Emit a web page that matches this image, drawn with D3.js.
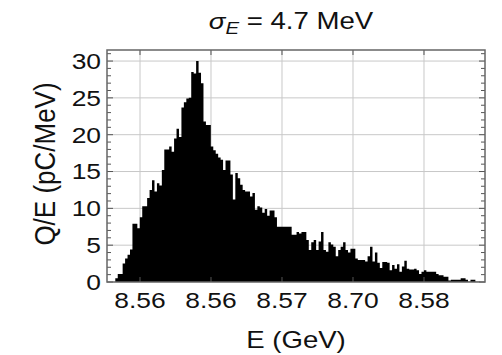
<!DOCTYPE html>
<html>
<head>
<meta charset="utf-8">
<script src="https://cdn.jsdelivr.net/npm/d3@7"></script>
<style>
    body { margin: 0; background: #fff; }
    text { font-family: "Liberation Sans", Arial, sans-serif; fill: #111; }
</style>
</head>
<body>
<svg id="chart" width="502" height="355"></svg>
<script>
// histogram bins (GeV), charge density per bin (pC/MeV)
const binStart = 8.55326;
const binWidth = 0.0001725;
const qPerE = [
    0.5, 1.1, 1.1, 2.5, 3.2, 3.7, 4.4, 7.9, 7.9, 7.3,
    8.8, 10.3, 10.3, 11.4, 12.5, 13.8, 12.3, 13.4, 13.1, 15.2,
    18.0, 18.0, 18.4, 17.7, 19.5, 20.8, 19.7, 23.7, 24.4, 24.9,
    25.0, 28.5, 28.3, 30.0, 28.4, 27.0, 21.8, 21.3, 21.3, 18.4,
    17.9, 17.4, 16.9, 16.6, 15.2, 16.5, 16.5, 14.6, 11.2, 14.8,
    14.1, 13.2, 12.5, 12.3, 12.3, 11.6, 12.1, 9.8, 10.3, 10.1,
    9.4, 9.9, 9.0, 9.7, 9.7, 8.8, 7.5, 7.5, 7.5, 7.5,
    7.5, 7.5, 6.4, 6.4, 6.8, 6.6, 6.8, 6.8, 5.7, 4.35,
    5.4, 5.7, 4.35, 5.5, 6.8, 4.35, 4.1, 5.4, 5.1, 4.8,
    3.5, 4.35, 4.8, 5.4, 4.35, 4.0, 4.5, 4.5, 3.2, 3.0,
    3.0, 3.0, 2.8, 3.5, 4.8, 2.8, 4.0, 2.6, 1.9, 2.7,
    2.7, 2.6, 1.6, 2.3, 1.8, 2.4, 1.4, 2.1, 2.9, 1.8,
    1.7, 1.7, 1.8, 1.6, 1.1, 1.4, 1.6, 1.4, 1.4, 1.4,
    1.4, 1.1, 0.9, 0.9, 0.7, 0.7, 0.2, 0.3, 0.3, 0.3,
    0.3, 0.5, 0.5, 0.3, 0.05, 0.3, 0.3, 0.05, 0.05
];

// x ticks as printed on the original figure
const xTickValues = [8.555, 8.560, 8.565, 8.570, 8.575];
const xTickLabels = ["8.56", "8.56", "8.57", "8.70", "8.58"];
const yTickValues = [0, 5, 10, 15, 20, 25, 30];

const xDomain = [8.552676, 8.579296];
const yDomain = [0, 31.5];

const svg = d3.select('#chart');
const margin = {top: 50, right: 17, bottom: 73, left: 107};
const width = 502 - margin.left - margin.right;
const height = 355 - margin.top - margin.bottom;
const stretch = 1.2; // text in the figure is a bit wide

const g = svg.append('g').attr('transform', `translate(${margin.left},${margin.top})`);

const x = d3.scaleLinear().domain(xDomain).range([0, width]);
const y = d3.scaleLinear().domain(yDomain).range([height, 0]);

// grid
const grid = g.append('g').attr('class', 'grid');
grid.selectAll('line.gx').data(xTickValues).join(enter => enter.append('line').attr('class', 'gx'))
    .attr('x1', d => x(d)).attr('x2', d => x(d))
    .attr('y1', 0).attr('y2', height)
    .style('stroke', '#c8c8c8').style('stroke-width', 1);
grid.selectAll('line.gy').data(yTickValues.slice(1)).join(enter => enter.append('line').attr('class', 'gy'))
    .attr('x1', 0).attr('x2', width)
    .attr('y1', d => y(d)).attr('y2', d => y(d))
    .style('stroke', '#c8c8c8').style('stroke-width', 1);

// histogram as a step area
const steps = qPerE.map((v, i) => ({e: binStart + i * binWidth, v}));
steps.push({e: binStart + qPerE.length * binWidth, v: 0});
const area = d3.area()
    .curve(d3.curveStepAfter)
    .x(d => x(d.e))
    .y0(y(0))
    .y1(d => y(d.v));
g.append('path').attr('d', area(steps)).style('fill', '#000');

// inner ticks
const tickColor = '#555';
const yMinor = d3.range(0, 32, 1);
const ticks = g.append('g').attr('class', 'ticks');
ticks.selectAll('line.yl').data(yMinor).join(enter => enter.append('line').attr('class', 'yl'))
    .attr('x1', 0).attr('x2', d => d % 5 === 0 ? 6 : 4)
    .attr('y1', d => y(d)).attr('y2', d => y(d))
    .style('stroke', tickColor).style('stroke-width', 1);
ticks.selectAll('line.yr').data(yMinor).join(enter => enter.append('line').attr('class', 'yr'))
    .attr('x1', width).attr('x2', d => width - (d % 5 === 0 ? 6 : 4))
    .attr('y1', d => y(d)).attr('y2', d => y(d))
    .style('stroke', tickColor).style('stroke-width', 1);
ticks.selectAll('line.xb').data(xTickValues).join(enter => enter.append('line').attr('class', 'xb'))
    .attr('x1', d => x(d)).attr('x2', d => x(d))
    .attr('y1', height).attr('y2', height - 5)
    .style('stroke', tickColor).style('stroke-width', 1);
ticks.selectAll('line.xt').data(xTickValues).join(enter => enter.append('line').attr('class', 'xt'))
    .attr('x1', d => x(d)).attr('x2', d => x(d))
    .attr('y1', 0).attr('y2', 5)
    .style('stroke', tickColor).style('stroke-width', 1);

// frame
g.append('rect')
    .attr('x', 0).attr('y', 0).attr('width', width).attr('height', height)
    .style('fill', 'none').style('stroke', '#666').style('stroke-width', 1.5);

// tick labels
g.selectAll('text.xl').data(xTickValues).join('text')
    .attr('class', 'xl')
    .attr('transform', d => `translate(${x(d)},${height + 26}) scale(${stretch},1)`)
    .attr('text-anchor', 'middle')
    .style('font-size', '22px')
    .text((d, i) => xTickLabels[i]);
g.selectAll('text.yl').data(yTickValues).join('text')
    .attr('class', 'yl')
    .attr('transform', d => `translate(-6,${y(d)}) scale(${stretch},1)`)
    .attr('dy', '0.36em')
    .attr('text-anchor', 'end')
    .style('font-size', '22px')
    .text(d => d);

// axis titles
svg.append('text')
    .attr('transform', `translate(${margin.left + width / 2},348) scale(${stretch},1)`)
    .attr('text-anchor', 'middle')
    .style('font-size', '23px')
    .text('E (GeV)');
svg.append('text')
    .attr('transform', `translate(55,${margin.top + height / 2 - 2}) rotate(-90) scale(1,1.1)`)
    .attr('text-anchor', 'middle')
    .style('font-size', '26px')
    .text('Q/E (pC/MeV)');

// title
const title = svg.append('text')
    .attr('transform', `translate(291,29) scale(${stretch},1)`)
    .attr('text-anchor', 'middle')
    .style('font-size', '23px');
title.append('tspan').style('font-style', 'italic').text('σ');
title.append('tspan').style('font-style', 'italic').style('font-size', '17px').attr('dy', 5).text('E');
title.append('tspan').attr('dy', -5).text(' = 4.7 MeV');
</script>
</body>
</html>
